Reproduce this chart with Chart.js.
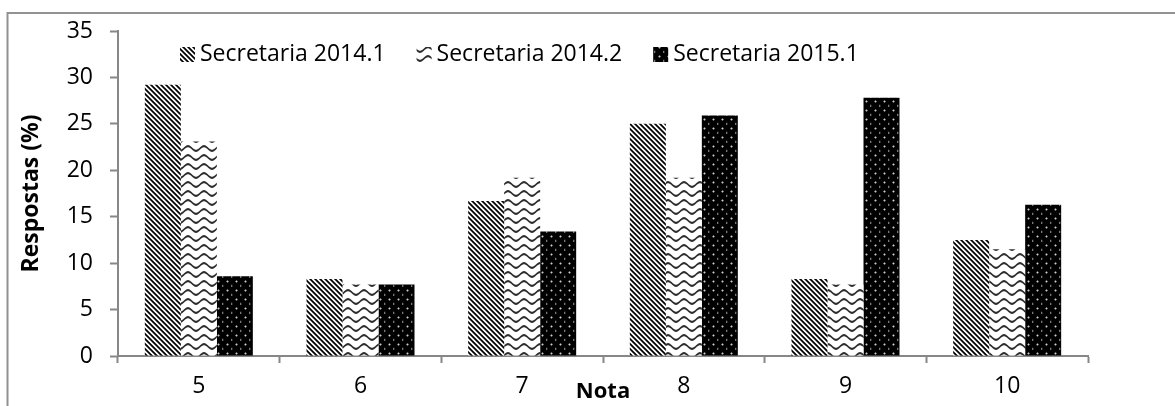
<!DOCTYPE html>
<html>
<head>
<meta charset="utf-8">
<script src="https://cdn.jsdelivr.net/npm/chart.js@4/dist/chart.umd.min.js"></script>
<style>
  html, body { margin: 0; padding: 0; background: #ffffff; }
  #wrap { position: relative; width: 1175px; height: 406px; }
  canvas { display: block; }
</style>
</head>
<body>
<div id="wrap"><canvas id="chart" width="1175" height="406"></canvas></div>
<script>
// Grades (Nota) on the x axis and share of answers (%) per semester
const notas = ['5', '6', '7', '8', '9', '10'];
const seriesNames = ['Secretaria 2014.1', 'Secretaria 2014.2', 'Secretaria 2015.1'];
const sec20141 = [29.2, 8.3, 16.7, 25.0, 8.3, 12.5];
const sec20142 = [23.1, 7.7, 19.2, 19.2, 7.7, 11.5];
const sec20151 = [8.6, 7.7, 13.4, 25.9, 27.8, 16.3];
const yTicks = [0, 5, 10, 15, 20, 25, 30, 35];

const FONT = "'Open Sans', 'Liberation Sans', sans-serif";
const AXIS_GRAY = '#878787';

// Build a repeating fill from a per-pixel shade function (supersampled)
function makePattern(w, h, shade) {
  const tile = document.createElement('canvas');
  tile.width = w; tile.height = h;
  const g = tile.getContext('2d');
  const img = g.createImageData(w, h);
  const S = 4;
  for (let y = 0; y < h; y++) {
    for (let x = 0; x < w; x++) {
      let sum = 0;
      for (let j = 0; j < S; j++) {
        for (let i = 0; i < S; i++) {
          sum += shade(x + (i + 0.5) / S, y + (j + 0.5) / S);
        }
      }
      const v = Math.round(sum / (S * S));
      const k = (y * w + x) * 4;
      img.data[k] = v; img.data[k + 1] = v; img.data[k + 2] = v; img.data[k + 3] = 255;
    }
  }
  g.putImageData(img, 0, 0);
  return g.createPattern(tile, 'repeat');
}

// Dark downward diagonal stripes
const stripeFill = makePattern(5, 5, (x, y) => {
  const d = (((x - y) % 5) + 5) % 5;
  return d < 2.5 ? 0 : 255;
});

// Horizontal waves
const waveFill = makePattern(16, 9, (x, y) => {
  const yc = 4.5 + 2.3 * Math.sin(2 * Math.PI * x / 16);
  let dy = Math.abs(y - yc);
  dy = Math.min(dy, 9 - dy);
  return dy < 1.1 ? 45 : 255;
});

// Black with small light dots and dashes
const dotFill = makePattern(9, 9, (x, y) => {
  const dx = x - 2.5, dy = y - 2.5;
  if (dx * dx + dy * dy < 1.1) return 205;
  if (Math.abs(x - 6.8) < 0.5 && Math.abs(y - 6.8) < 1.1) return 160;
  return 0;
});

const fills = [stripeFill, waveFill, dotFill];
const values = [sec20141, sec20142, sec20151];

// Outer frame (left and top edges)
const framePlugin = {
  id: 'frame',
  beforeDraw(chart) {
    const ctx = chart.ctx;
    ctx.save();
    ctx.strokeStyle = '#929292';
    ctx.lineWidth = 2;
    ctx.beginPath();
    ctx.moveTo(7.5, 406);
    ctx.lineTo(7.5, 13);
    ctx.lineTo(1175, 13);
    ctx.stroke();
    ctx.restore();
  }
};

// Series key drawn inside the plot, top-left
const keyPlugin = {
  id: 'seriesKey',
  afterDraw(chart) {
    const ctx = chart.ctx;
    ctx.save();
    ctx.font = '23px ' + FONT;
    ctx.textBaseline = 'middle';
    let x = 180;
    const yMid = 54;
    chart.data.datasets.forEach(ds => {
      ctx.fillStyle = ds.backgroundColor;
      ctx.fillRect(x, yMid - 7, 15, 15);
      ctx.fillStyle = '#000000';
      ctx.fillText(ds.label, x + 20, yMid);
      x += 20 + ctx.measureText(ds.label).width + 31;
    });
    ctx.restore();
  }
};

new Chart(document.getElementById('chart'), {
  type: 'bar',
  data: {
    labels: notas,
    datasets: seriesNames.map((name, i) => ({
      label: name,
      data: values[i],
      backgroundColor: fills[i],
      borderWidth: 0,
      categoryPercentage: 0.668,
      barPercentage: 1.0
    }))
  },
  options: {
    responsive: false,
    animation: false,
    devicePixelRatio: 1,
    layout: { padding: { left: 0, right: 87, top: 31, bottom: 0 } },
    plugins: {
      legend: { display: false },
      tooltip: { enabled: false }
    },
    scales: {
      x: {
        offset: true,
        grid: {
          display: true, drawOnChartArea: false, drawTicks: true,
          tickLength: 7, tickWidth: 2, color: AXIS_GRAY, offset: true
        },
        border: { display: true, color: AXIS_GRAY, width: 2 },
        ticks: { color: '#000000', font: { family: FONT, size: 23 }, padding: 10, maxRotation: 0 },
        title: {
          display: true, text: 'Nota', color: '#000000',
          font: { family: FONT, size: 22, weight: 'bold' },
          padding: { top: 0, bottom: 1 }
        },
        afterFit(scale) { scale.height = 50; }
      },
      y: {
        min: 0, max: 35,
        afterBuildTicks(scale) { scale.ticks = yTicks.map(v => ({ value: v })); },
        grid: {
          display: true, drawOnChartArea: false, drawTicks: true,
          tickLength: 8, tickWidth: 2, color: AXIS_GRAY
        },
        border: { display: true, color: AXIS_GRAY, width: 2 },
        ticks: { color: '#000000', font: { family: FONT, size: 23 }, padding: 17 },
        title: {
          display: true, text: 'Respostas (%)', color: '#000000',
          font: { family: FONT, size: 23, weight: 'bold' },
          padding: { top: 18, bottom: 0 }
        },
        afterFit(scale) { scale.width = 118; }
      }
    }
  },
  plugins: [framePlugin, keyPlugin]
});
</script>
</body>
</html>
